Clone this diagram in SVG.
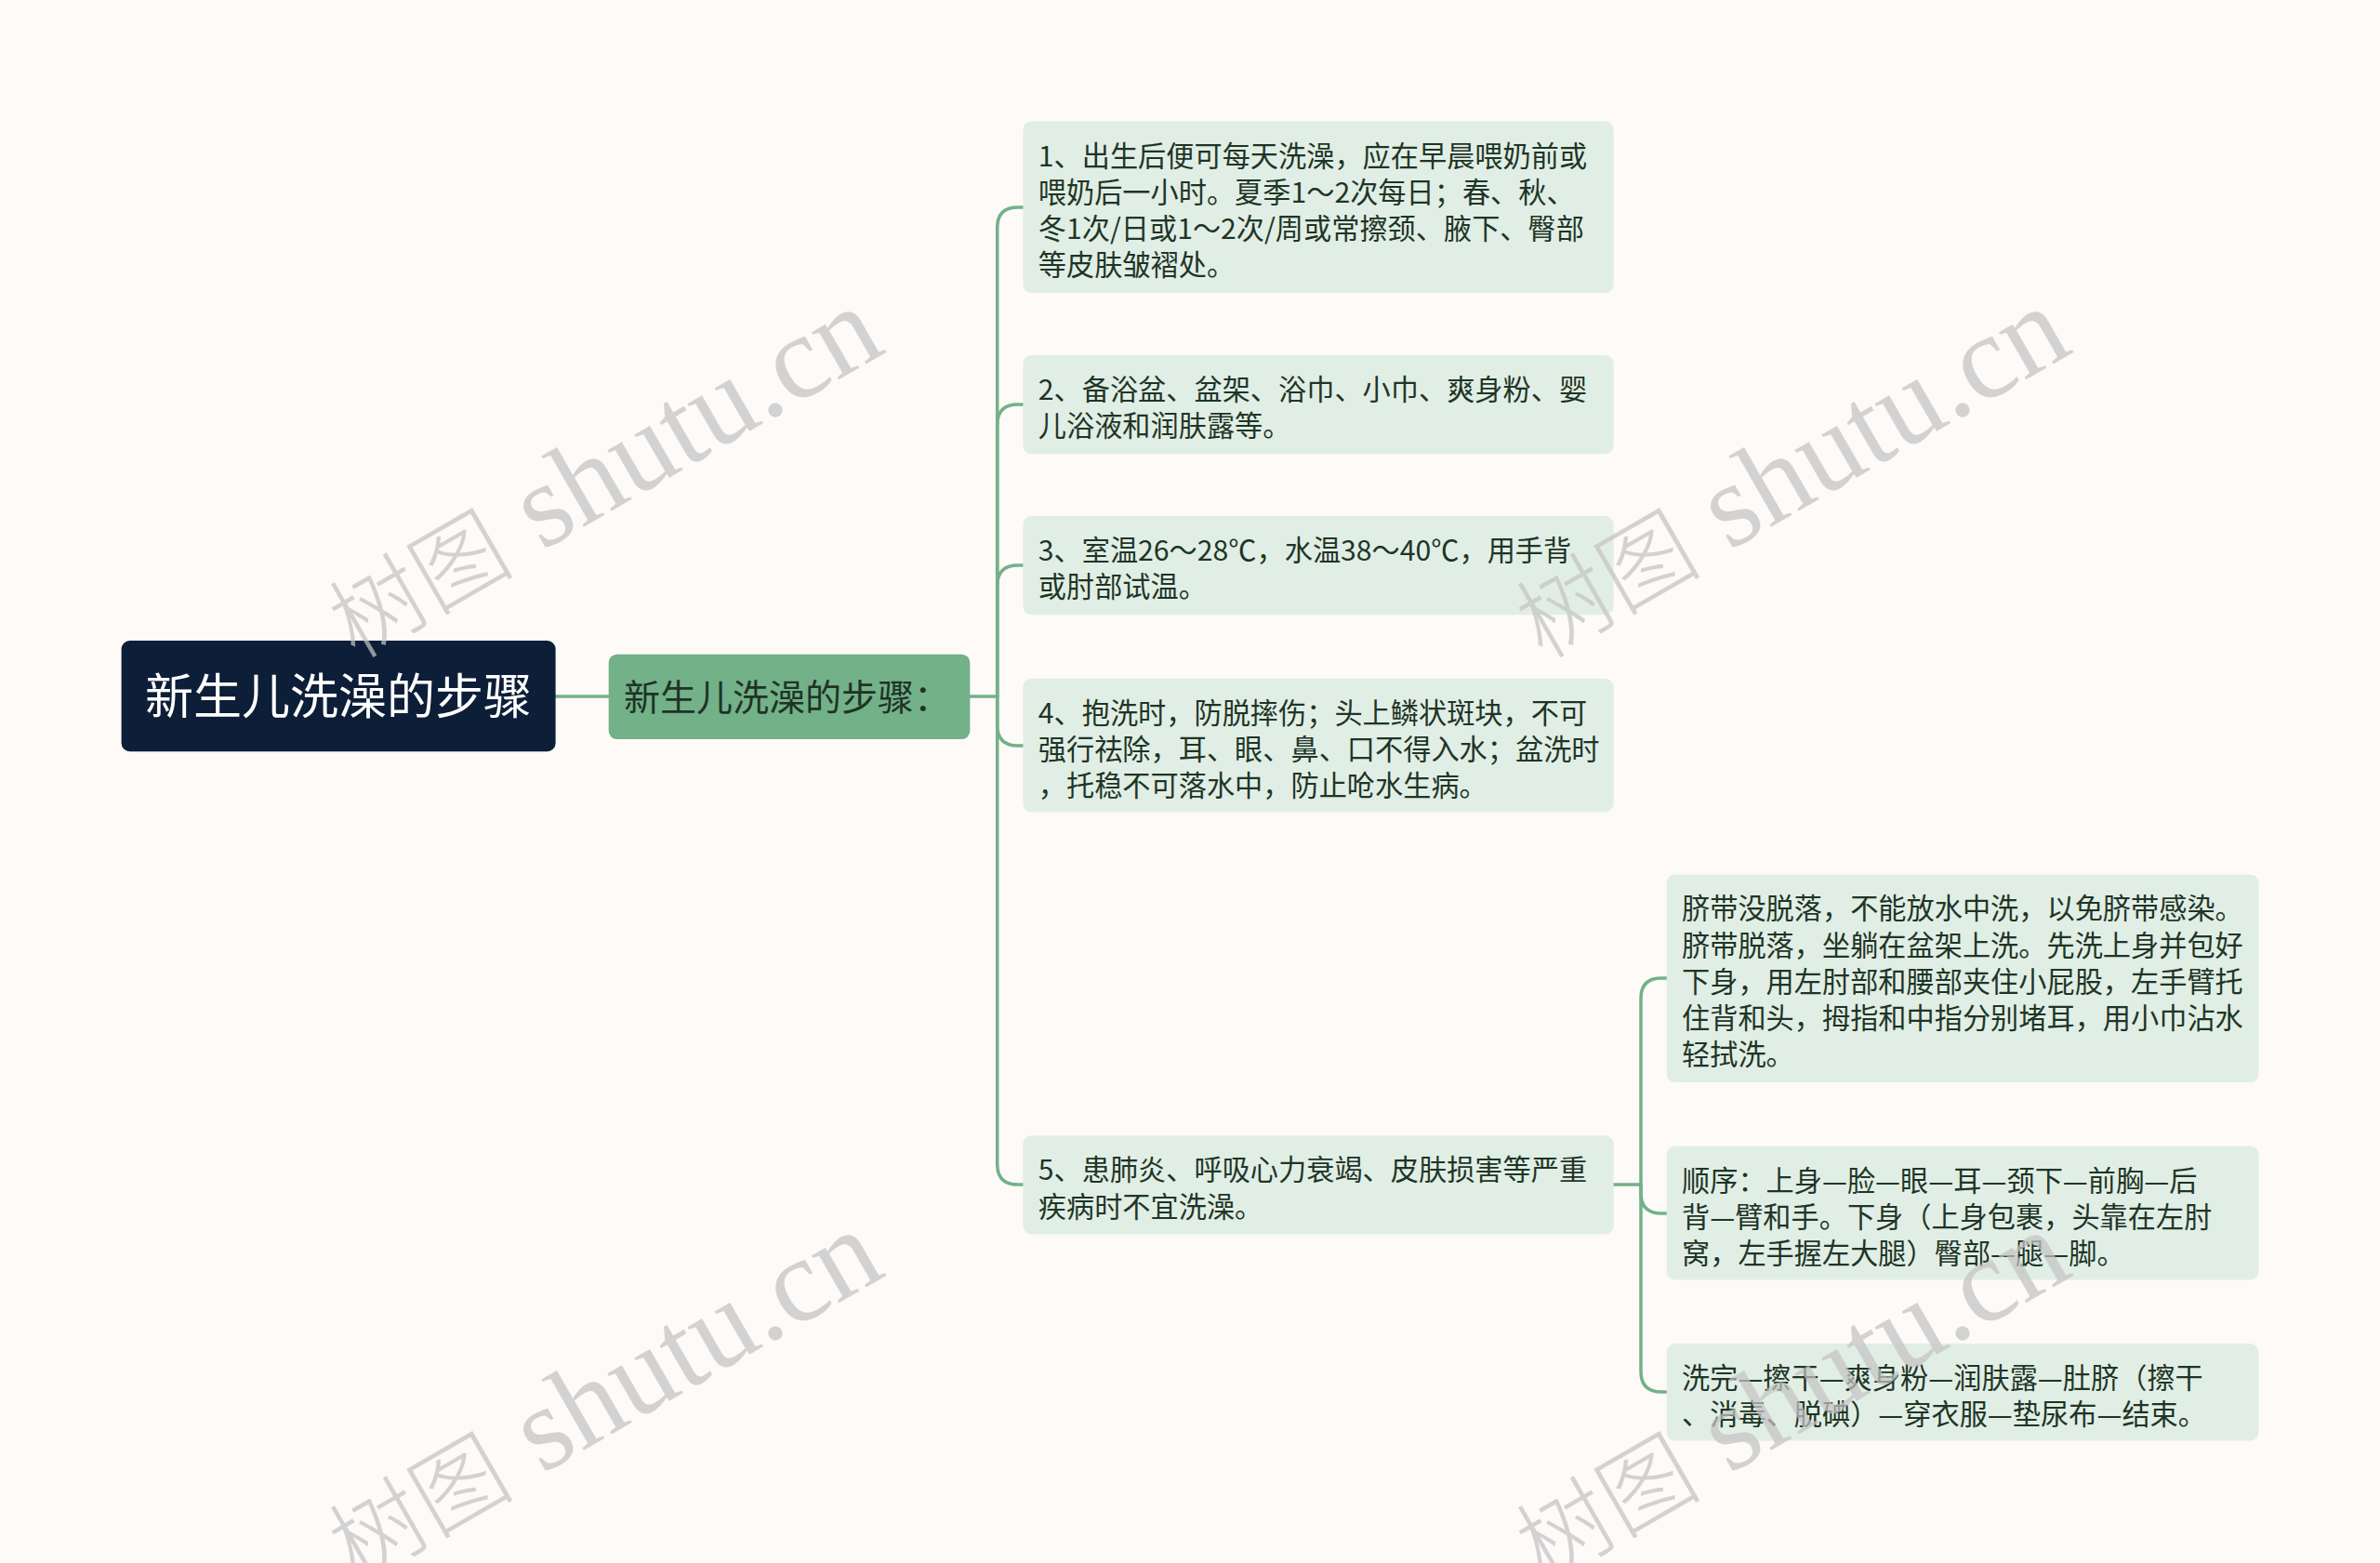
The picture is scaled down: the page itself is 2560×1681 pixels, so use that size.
<svg xmlns="http://www.w3.org/2000/svg" width="2560" height="1681" viewBox="0 0 2560 1681">
<style>
.bg{fill:#fdfaf8}
.root{fill:#0d1e38}
.sub{fill:#73b189}
.leaf{fill:#e1eee5}
.conn{fill:none;stroke:#73b189;stroke-width:3.5;stroke-linecap:round}
.t{font-family:"Noto Sans CJK SC","Noto Sans",sans-serif;}
.rt{font-size:52px;fill:#ffffff}
.st{font-size:39px;fill:#1f3326}
.lt{font-size:30.2px;fill:#1e3526}
.wm{font-family:"Liberation Serif","Noto Sans CJK SC",serif;font-size:128px;fill:#c4c4c4;opacity:0.72}
.wmc{font-family:"Noto Sans CJK SC",serif;font-size:100px;font-weight:300}
</style>
<rect class="bg" x="0" y="0" width="2560" height="1681"/>
<g id="connectors">
<path class="conn" d="M597.6,749 H654.7"/>
<path class="conn" d="M1043.3,749 H1072.7"/>
<path class="conn" d="M1072.7,749 V245 Q1072.7,223 1094.7,223 H1100.4"/>
<path class="conn" d="M1072.7,749 V457 Q1072.7,435 1094.7,435 H1100.4"/>
<path class="conn" d="M1072.7,749 V630 Q1072.7,608 1094.7,608 H1100.4"/>
<path class="conn" d="M1072.7,749 V780 Q1072.7,802 1094.7,802 H1100.4"/>
<path class="conn" d="M1072.7,749 V1252 Q1072.7,1274 1094.7,1274 H1100.4"/>
<path class="conn" d="M1735.6,1274 H1765"/>
<path class="conn" d="M1765,1274 V1074 Q1765,1052 1787,1052 H1792.7"/>
<path class="conn" d="M1765,1274 V1283 Q1765,1305 1787,1305 H1792.7"/>
<path class="conn" d="M1765,1274 V1475 Q1765,1497 1787,1497 H1792.7"/>
</g>
<g id="root">
<rect class="root" x="130.6" y="689" width="467" height="119.2" rx="9"/>
<text class="t rt" x="364" y="768" text-anchor="middle">新生儿洗澡的步骤</text>
</g>
<g id="sub">
<rect class="sub" x="654.7" y="703.7" width="388.6" height="91.4" rx="9"/>
<text class="t st" x="671" y="763.5">新生儿洗澡的步骤：</text>
</g>
<g id="n1">
<rect class="leaf" x="1100.4" y="130.6" width="635.2" height="184.5" rx="9"/>
<text class="t lt" x="1116.8" y="178.6">1、出生后便可每天洗澡，应在早晨喂奶前或</text>
<text class="t lt" x="1116.8" y="217.8">喂奶后一小时。夏季1～2次每日；春、秋、</text>
<text class="t lt" x="1116.8" y="257">冬1次/日或1～2次/周或常擦颈、腋下、臀部</text>
<text class="t lt" x="1116.8" y="296.2">等皮肤皱褶处。</text>
</g>
<g id="n2">
<rect class="leaf" x="1100.4" y="382" width="635.2" height="106.2" rx="9"/>
<text class="t lt" x="1116.8" y="430">2、备浴盆、盆架、浴巾、小巾、爽身粉、婴</text>
<text class="t lt" x="1116.8" y="469.2">儿浴液和润肤露等。</text>
</g>
<g id="n3">
<rect class="leaf" x="1100.4" y="555.1" width="635.2" height="106.1" rx="9"/>
<text class="t lt" x="1116.8" y="603.1">3、室温26～28℃，水温38～40℃，用手背</text>
<text class="t lt" x="1116.8" y="642.3">或肘部试温。</text>
</g>
<g id="n4">
<rect class="leaf" x="1100.4" y="729.8" width="635.2" height="143.7" rx="9"/>
<text class="t lt" x="1116.8" y="777.8">4、抱洗时，防脱摔伤；头上鳞状斑块，不可</text>
<text class="t lt" x="1116.8" y="817">强行祛除，耳、眼、鼻、口不得入水；盆洗时</text>
<text class="t lt" x="1116.8" y="856.2">，托稳不可落水中，防止呛水生病。</text>
</g>
<g id="n5">
<rect class="leaf" x="1100.4" y="1221.3" width="635.2" height="106.1" rx="9"/>
<text class="t lt" x="1116.8" y="1269.3">5、患肺炎、呼吸心力衰竭、皮肤损害等严重</text>
<text class="t lt" x="1116.8" y="1308.5">疾病时不宜洗澡。</text>
</g>
<g id="n5a">
<rect class="leaf" x="1792.7" y="940.4" width="636.8" height="223.7" rx="9"/>
<text class="t lt" x="1809" y="988.4">脐带没脱落，不能放水中洗，以免脐带感染。</text>
<text class="t lt" x="1809" y="1027.6">脐带脱落，坐躺在盆架上洗。先洗上身并包好</text>
<text class="t lt" x="1809" y="1066.8">下身，用左肘部和腰部夹住小屁股，左手臂托</text>
<text class="t lt" x="1809" y="1106">住背和头，拇指和中指分别堵耳，用小巾沾水</text>
<text class="t lt" x="1809" y="1145.2">轻拭洗。</text>
</g>
<g id="n5b">
<rect class="leaf" x="1792.7" y="1232.7" width="636.8" height="143.7" rx="9"/>
<text class="t lt" x="1809" y="1280.7">顺序：上身—脸—眼—耳—颈下—前胸—后</text>
<text class="t lt" x="1809" y="1319.9">背—臂和手。下身（上身包裹，头靠在左肘</text>
<text class="t lt" x="1809" y="1359.1">窝，左手握左大腿）臀部—腿—脚。</text>
</g>
<g id="n5c">
<rect class="leaf" x="1792.7" y="1445" width="636.8" height="104.4" rx="9"/>
<text class="t lt" x="1809" y="1493">洗完—擦干—爽身粉—润肤露—肚脐（擦干</text>
<text class="t lt" x="1809" y="1532.2">、消毒、脱碘）—穿衣服—垫尿布—结束。</text>
</g>
<g id="watermarks">
<text class="wm" x="647" y="506" text-anchor="middle" dominant-baseline="central" transform="rotate(-30 647 506)"><tspan class="wmc">树图</tspan> shutu.cn</text>
<text class="wm" x="1924" y="506" text-anchor="middle" dominant-baseline="central" transform="rotate(-30 1924 506)"><tspan class="wmc">树图</tspan> shutu.cn</text>
<text class="wm" x="647" y="1499" text-anchor="middle" dominant-baseline="central" transform="rotate(-30 647 1499)"><tspan class="wmc">树图</tspan> shutu.cn</text>
<text class="wm" x="1924" y="1499" text-anchor="middle" dominant-baseline="central" transform="rotate(-30 1924 1499)"><tspan class="wmc">树图</tspan> shutu.cn</text>
</g>
</svg>
